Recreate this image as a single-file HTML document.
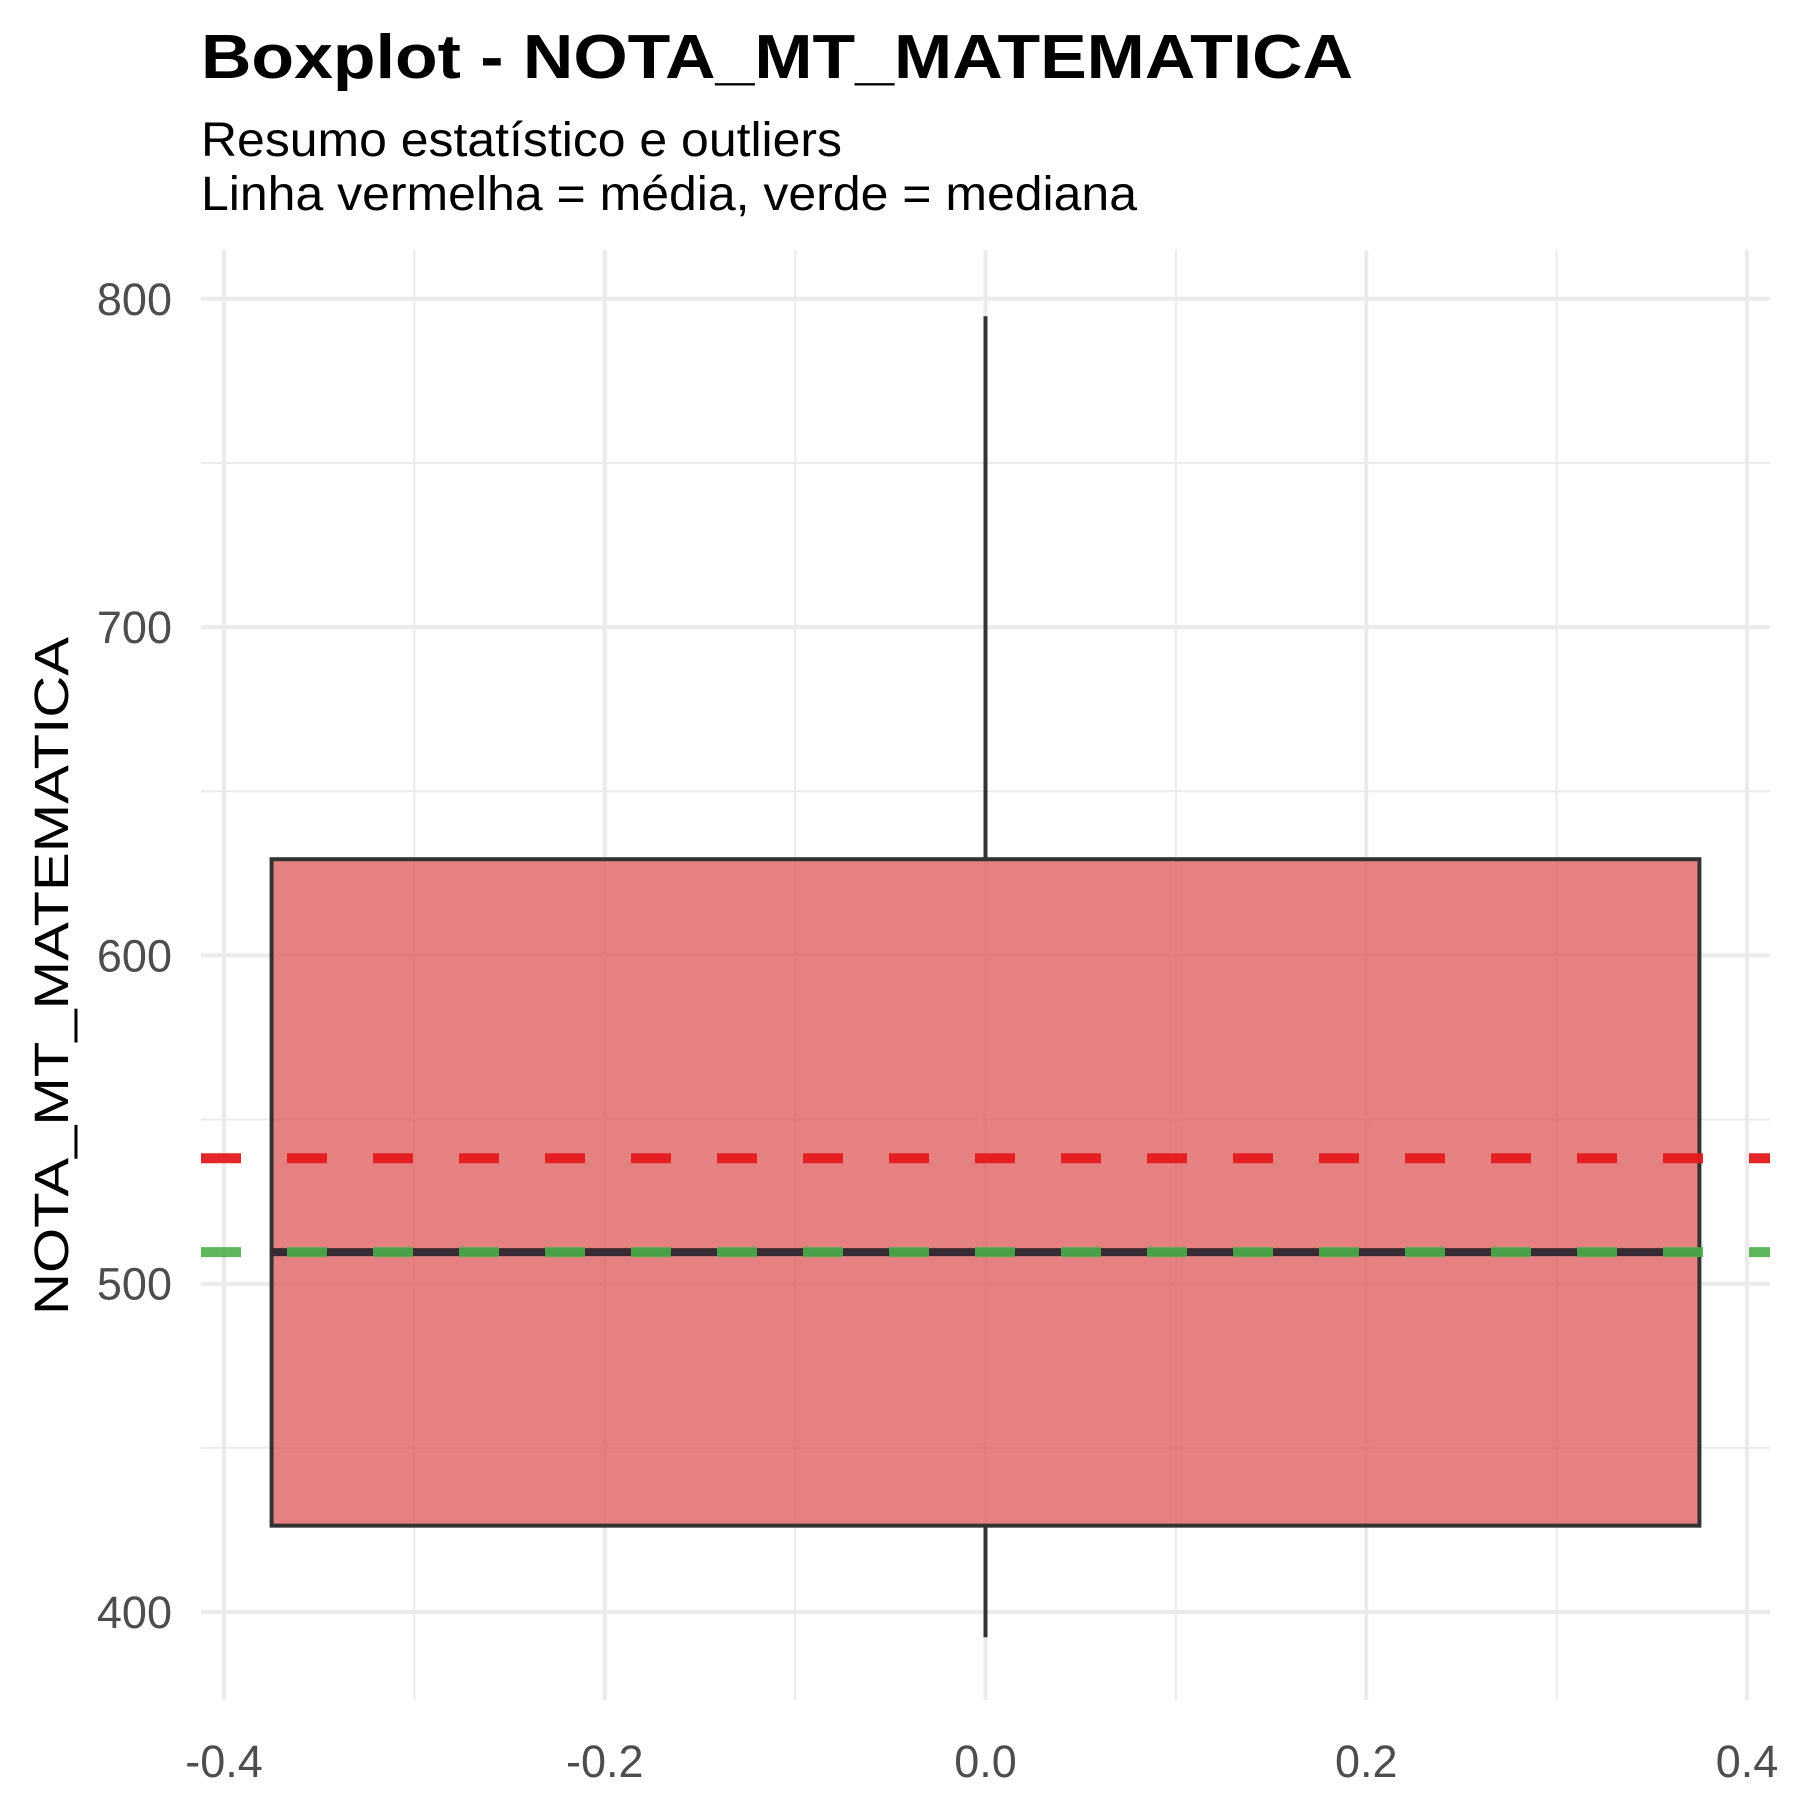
<!DOCTYPE html>
<html><head><meta charset="utf-8"><style>html,body{margin:0;padding:0;background:#fff}svg{display:block}</style></head>
<body>
<svg id="chart" width="1800" height="1800" xmlns="http://www.w3.org/2000/svg" font-family="'Liberation Sans', sans-serif">
<text x="201" y="78" font-size="62" font-weight="bold" textLength="1152" lengthAdjust="spacingAndGlyphs">Boxplot - NOTA_MT_MATEMATICA</text>
<text x="201" y="156" font-size="48" textLength="641" lengthAdjust="spacingAndGlyphs">Resumo estatístico e outliers</text>
<text x="201" y="210" font-size="48" textLength="936" lengthAdjust="spacingAndGlyphs">Linha vermelha = média, verde = mediana</text>
<g id="grid"></g>
<g id="marks"></g>
<g id="axes"></g>
<text transform="translate(68,976) rotate(-90)" text-anchor="middle" font-size="48" textLength="678" lengthAdjust="spacingAndGlyphs">NOTA_MT_MATEMATICA</text>
</svg>
<script>
const yTicks = [400, 500, 600, 700, 800];
const yMinor = [450, 550, 650, 750];
const xTicks = [-0.4, -0.2, 0.0, 0.2, 0.4];
const xMinor = [-0.3, -0.1, 0.1, 0.3];
const boxStats = [392.3, 426.3, 509.6, 629.3, 794.7]; // min, q1, median, q3, max
const meanValue = [538.2];
const medianValue = [509.6];
const boxHalfWidth = [0.375];

const L = 201, R = 1770, T = 250, B = 1700;
const xs = v => 985.5 + v * 1903.75;
const ys = v => 1612 - (v - 400) * 3.283;
const NS = 'http://www.w3.org/2000/svg';
function mk(tag, attrs, parent) {
  const e = document.createElementNS(NS, tag);
  for (const k in attrs) e.setAttribute(k, attrs[k]);
  parent.appendChild(e);
  return e;
}
const grid = document.getElementById('grid');
const marks = document.getElementById('marks');
const axes = document.getElementById('axes');
yMinor.forEach(v => {
  const e = mk('line', {x1: L, x2: R, y1: ys(v), y2: ys(v), stroke: '#ebebeb', 'stroke-width': 2}, grid);
  
  
});
xMinor.forEach(v => {
  const e = mk('line', {x1: xs(v), x2: xs(v), y1: T, y2: B, stroke: '#ebebeb', 'stroke-width': 2}, grid);
  
  
});
yTicks.forEach(v => {
  const e = mk('line', {x1: L, x2: R, y1: ys(v), y2: ys(v), stroke: '#ebebeb', 'stroke-width': 4}, grid);
  
  
  const t = mk('text', {x: 172, y: ys(v) + 16, 'text-anchor': 'end', 'font-size': 45, fill: '#4d4d4d'}, axes);
  t.textContent = String(v);
  
  
});
xTicks.forEach(v => {
  const e = mk('line', {x1: xs(v), x2: xs(v), y1: T, y2: B, stroke: '#ebebeb', 'stroke-width': 4}, grid);
  
  
  const t = mk('text', {x: xs(v), y: 1777, 'text-anchor': 'middle', 'font-size': 45, fill: '#4d4d4d'}, axes);
  t.textContent = v.toFixed(1);
  
  
});
let w1 = mk('line', {x1: xs(0), x2: xs(0), y1: ys(boxStats[3]), y2: ys(boxStats[4]), stroke: '#333', 'stroke-width': 4}, marks);


let w2 = mk('line', {x1: xs(0), x2: xs(0), y1: ys(boxStats[1]), y2: ys(boxStats[0]), stroke: '#333', 'stroke-width': 4}, marks);


const bx0 = xs(-boxHalfWidth[0]), bx1 = xs(boxHalfWidth[0]);
let box = mk('rect', {x: bx0, y: ys(boxStats[3]), width: bx1 - bx0, height: ys(boxStats[1]) - ys(boxStats[3]), fill: 'rgba(224,97,97,0.8)', stroke: '#333', 'stroke-width': 4}, marks);


let med = mk('line', {x1: bx0, x2: bx1, y1: ys(boxStats[2]), y2: ys(boxStats[2]), stroke: '#3a2a33', 'stroke-width': 8}, marks);


let meanL = mk('line', {x1: L, x2: R, y1: ys(meanValue[0]), y2: ys(meanValue[0]), stroke: '#e41a1c', 'stroke-width': 10, 'stroke-dasharray': '40 46', 'stroke-opacity': 0.95}, marks);


let medL = mk('line', {x1: L, x2: R, y1: ys(medianValue[0]), y2: ys(medianValue[0]), stroke: '#4daf4a', 'stroke-width': 10, 'stroke-dasharray': '40 46', 'stroke-opacity': 0.9}, marks);


</script>
</body></html>
